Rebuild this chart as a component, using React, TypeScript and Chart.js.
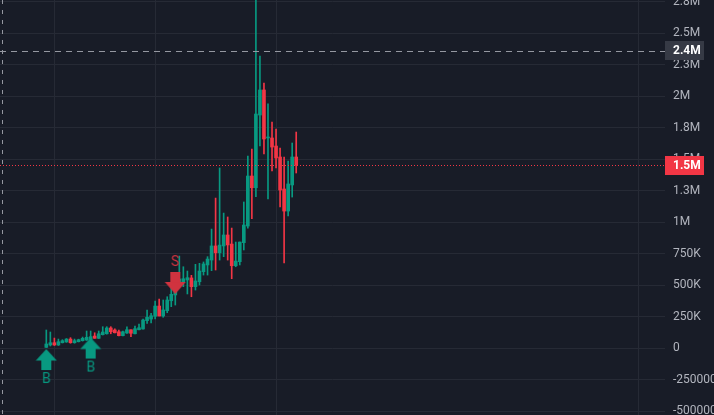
import React, { useEffect, useRef } from "react";
import { Chart, registerables } from "chart.js";

Chart.register(...registerables);

// ---- data ----
const candleIndex: number[] = Array.from({ length: 63 }, (_, i) => i);

const opens = [
  5000, 24000, 42000, 24000, 42000, 48000, 71000, 42000, 50000, 58000,
  63000, 69000, 95000, 77000, 106000, 113000, 159000, 143000, 129000, 98000,
  119000, 145000, 113000, 145000, 151000, 217000, 230000, 252000, 333000, 254000,
  296000, 375000, 421000, 516000, 524000, 540000, 556000, 487000, 526000, 606000,
  659000, 698000, 810000, 756000, 810000, 897000, 825000, 653000, 685000, 836000,
  968000, 1365000, 1272000, 1849000, 2048000, 1667000, 1667000, 1603000, 1516000, 1262000,
  1087000, 1294000, 1516000,
];
const highs = [
  143000, 127000, 79000, 71000, 66000, 75000, 82000, 71000, 70000, 87000,
  135000, 135000, 121000, 135000, 169000, 169000, 169000, 153000, 143000, 135000,
  169000, 145000, 175000, 190000, 230000, 302000, 275000, 373000, 389000, 381000,
  407000, 487000, 548000, 730000, 645000, 611000, 577000, 664000, 672000, 683000,
  725000, 944000, 1190000, 1429000, 1071000, 1040000, 952000, 841000, 841000, 1159000,
  1524000, 1579000, 2800000, 2317000, 2103000, 1937000, 1794000, 1738000, 1587000, 1516000,
  1484000, 1627000, 1714000,
];
const lows = [
  0, 16000, 20000, 20000, 40000, 45000, 38000, 38000, 48000, 55000,
  60000, 65000, 77000, 75000, 103000, 110000, 113000, 119000, 96000, 96000,
  115000, 90000, 111000, 143000, 150000, 196000, 200000, 230000, 254000, 244000,
  280000, 328000, 341000, 492000, 487000, 429000, 407000, 460000, 500000, 579000,
  579000, 614000, 619000, 698000, 725000, 698000, 550000, 645000, 659000, 778000,
  952000, 1026000, 1201000, 1603000, 1540000, 1183000, 1405000, 1429000, 1119000, 675000,
  1048000, 1198000, 1389000,
];
const closes = [
  32000, 42000, 24000, 50000, 58000, 71000, 42000, 58000, 66000, 77000,
  85000, 90000, 77000, 113000, 127000, 159000, 129000, 121000, 98000, 129000,
  145000, 117000, 153000, 161000, 222000, 244000, 256000, 333000, 254000, 302000,
  381000, 426000, 476000, 548000, 550000, 558000, 487000, 532000, 611000, 667000,
  706000, 810000, 756000, 817000, 897000, 818000, 653000, 690000, 841000, 976000,
  1365000, 1272000, 1857000, 2048000, 1659000, 1672000, 1595000, 1508000, 1254000, 1087000,
  1302000, 1516000, 1452000,
];

const yTickValues = [
  -500000, -250000, 0, 250000, 500000, 750000, 1000000, 1250000, 1500000,
  1750000, 2000000, 2250000, 2500000, 2750000,
];
const yTickLabels = [
  "-500000", "-250000", "0", "250K", "500K", "750K", "1M", "1.3M", "1.5M",
  "1.8M", "2M", "2.3M", "2.5M", "2.8M",
];
const xGridIndex = [2, 27, 57, 147];

const buyIndex = [0, 11];
const buyPrice = [-8000, 83000];
const sellIndex = [32];
const sellPrice = [429000];

const crosshairIndex = -11.1;
const crosshairPrice = 2360000;

// ---- style ----
const GREEN = "#089981";
const RED = "#f23645";
const BG = "#181c27";
const GRID = "#262a35";
const TEXT = "#b2b5be";
const FONT = "Roboto, 'Noto Sans', sans-serif";

function makeMarker(dir: "up" | "down", color: string, textColor: string, label: string) {
  const c = document.createElement("canvas");
  c.width = 22;
  c.height = 84;
  const ctx = c.getContext("2d")!;
  const cx = 11;
  const tip = 42;
  ctx.fillStyle = color;
  ctx.beginPath();
  if (dir === "up") {
    ctx.moveTo(cx, tip);
    ctx.lineTo(cx + 10.5, tip + 11.5);
    ctx.lineTo(cx - 10.5, tip + 11.5);
    ctx.closePath();
    ctx.fill();
    ctx.fillRect(cx - 5, tip + 11, 10, 10);
    ctx.fillStyle = textColor;
    ctx.font = `14px ${FONT}`;
    ctx.textAlign = "center";
    ctx.textBaseline = "middle";
    ctx.fillText(label, cx, tip + 30.5);
  } else {
    ctx.moveTo(cx, tip);
    ctx.lineTo(cx + 10.5, tip - 12);
    ctx.lineTo(cx - 10.5, tip - 12);
    ctx.closePath();
    ctx.fill();
    ctx.fillRect(cx - 5, tip - 22, 10, 10.5);
    ctx.fillStyle = textColor;
    ctx.font = `14px ${FONT}`;
    ctx.textAlign = "center";
    ctx.textBaseline = "middle";
    ctx.fillText(label, cx, tip - 32);
  }
  return c;
}

function fmtPrice(v: number) {
  if (Math.abs(v) >= 1e6) return (v / 1e6).toFixed(1).replace(/\.0$/, "") + "M";
  if (Math.abs(v) >= 1e3) return Math.round(v / 1e3) + "K";
  return String(v);
}

export default function App() {
  const ref = useRef<HTMLCanvasElement | null>(null);

  useEffect(() => {
    document.body.style.margin = "0";
    document.body.style.background = BG;
    const canvas = ref.current!;
    const up = (i: number) => closes[i] >= opens[i];
    const colors = candleIndex.map((i) => (up(i) ? GREEN : RED));
    const lastPrice = closes[closes.length - 1];

    const overlay = {
      id: "overlay",
      afterDatasetsDraw(chart: any) {
        const { ctx, chartArea, scales } = chart;
        const ys = scales.y;
        const xs = scales.x;
        ctx.save();
        const yl = Math.round(ys.getPixelForValue(lastPrice)) + 0.5;
        ctx.strokeStyle = RED;
        ctx.lineWidth = 1;
        ctx.setLineDash([1, 2]);
        ctx.beginPath();
        ctx.moveTo(chartArea.left, yl);
        ctx.lineTo(chartArea.right, yl);
        ctx.stroke();
        const yc = Math.round(ys.getPixelForValue(crosshairPrice)) + 0.5;
        ctx.strokeStyle = "#9598a1";
        ctx.setLineDash([6, 5]);
        ctx.beginPath();
        ctx.moveTo(chartArea.left, yc);
        ctx.lineTo(chartArea.right, yc);
        ctx.stroke();
        const xc = Math.round(xs.getPixelForValue(crosshairIndex)) + 0.5;
        ctx.setLineDash([4, 6]);
        ctx.beginPath();
        ctx.moveTo(xc, chartArea.top);
        ctx.lineTo(xc, chartArea.bottom);
        ctx.stroke();
        ctx.restore();
      },
      afterDraw(chart: any) {
        const { ctx, chartArea, scales } = chart;
        const ys = scales.y;
        const box = (price: number, bg: string) => {
          const y = ys.getPixelForValue(price);
          ctx.fillStyle = bg;
          ctx.fillRect(chartArea.right, Math.round(y - 9.5), 39, 19);
          ctx.fillStyle = "#ffffff";
          ctx.font = `bold 12px ${FONT}`;
          ctx.textAlign = "left";
          ctx.textBaseline = "middle";
          ctx.fillText(fmtPrice(price), chartArea.right + 8, y + 0.5);
        };
        ctx.save();
        box(crosshairPrice, "#363a45");
        box(lastPrice, RED);
        ctx.restore();
      },
    };

    const buyImg = makeMarker("up", GREEN, GREEN, "B");
    const sellImg = makeMarker("down", "#d0333f", "#d0333f", "S");

    const chart = new Chart(canvas, {
      type: "bar",
      data: {
        datasets: [
          {
            type: "scatter",
            label: "buy",
            data: buyIndex.map((i, k) => ({ x: i, y: buyPrice[k] })),
            pointStyle: buyImg as any,
            order: 0,
          } as any,
          {
            type: "scatter",
            label: "sell",
            data: sellIndex.map((i, k) => ({ x: i, y: sellPrice[k] })),
            pointStyle: sellImg as any,
            order: 0,
          } as any,
          {
            label: "body",
            data: candleIndex.map((i) => ({ x: i, y: [opens[i], closes[i]] })) as any,
            backgroundColor: colors,
            barThickness: 3,
            minBarLength: 1,
            borderWidth: 0,
            grouped: false,
            order: 1,
          },
          {
            label: "wick",
            data: candleIndex.map((i) => ({ x: i, y: [lows[i], highs[i]] })) as any,
            backgroundColor: colors,
            barThickness: 1,
            borderWidth: 0,
            grouped: false,
            order: 2,
          },
        ],
      },
      options: {
        animation: false,
        responsive: false,
        devicePixelRatio: 1,
        layout: { padding: 0, autoPadding: false },
        plugins: { legend: { display: false }, tooltip: { enabled: false } },
        events: [],
        scales: {
          x: {
            type: "linear",
            offset: false,
            min: -11.49,
            max: 153.5,
            afterBuildTicks: (s: any) => {
              s.ticks = xGridIndex.map((v) => ({ value: v }));
            },
            afterFit: (s: any) => {
              s.height = 0;
              s.paddingLeft = 0;
              s.paddingRight = 0;
            },
            grid: { color: GRID, drawTicks: false, offset: false },
            border: { display: false },
            ticks: { display: false },
          },
          y: {
            position: "right",
            min: -531700,
            max: 2762000,
            afterBuildTicks: (s: any) => {
              s.ticks = yTickValues.map((v) => ({ value: v }));
            },
            afterFit: (s: any) => {
              s.width = 49;
              s.paddingTop = 0;
              s.paddingBottom = 0;
            },
            grid: { color: GRID, drawTicks: false },
            border: { display: false },
            ticks: {
              color: TEXT,
              padding: 8,
              autoSkip: false,
              font: { family: FONT, size: 12 },
              callback: (v: any) => {
                const k = yTickValues.indexOf(Number(v));
                return k >= 0 ? yTickLabels[k] : "";
              },
            },
          },
        },
      },
      plugins: [overlay],
    });
    return () => chart.destroy();
  }, []);

  return (
    <div style={{ position: "fixed", left: 0, top: 0, width: 714, height: 415, background: BG }}>
      <canvas ref={ref} width={714} height={415} style={{ display: "block" }} />
    </div>
  );
}
